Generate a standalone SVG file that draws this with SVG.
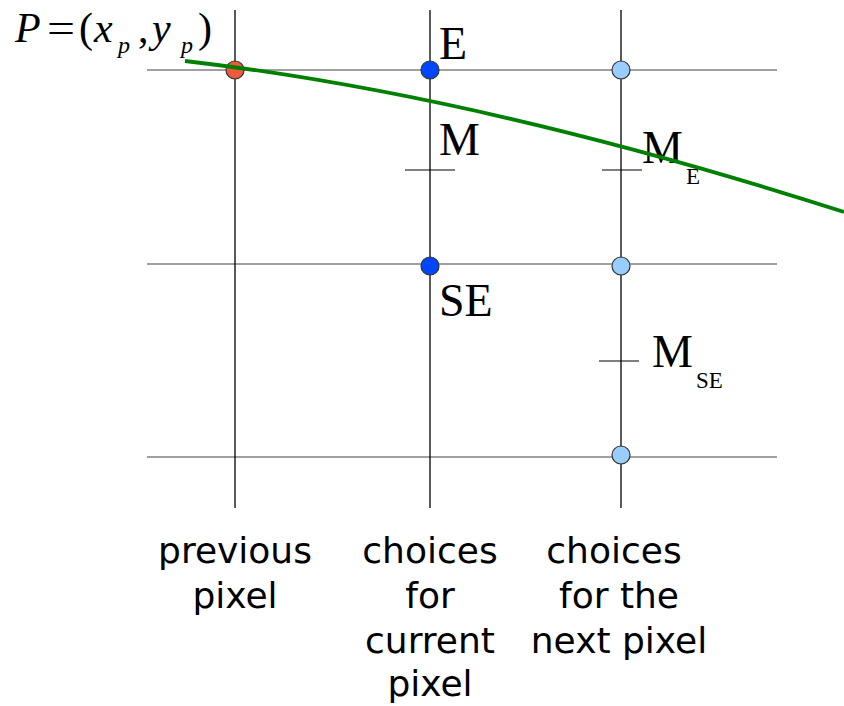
<svg xmlns="http://www.w3.org/2000/svg" width="844" height="706" viewBox="0 0 844 706">
<style>
.grid{stroke:#808080;stroke-width:1.3;fill:none}
.vline{stroke:#000;stroke-width:1.3;fill:none}
.tick{stroke:#000;stroke-width:1;fill:none}
.pt{stroke:#333;stroke-width:1.2}
.red{fill:#ee5a3a}
.blue{fill:#0046ff}
.light{fill:#99ccff}
.lab{font-family:"Liberation Serif","Times New Roman",serif;font-size:46px;fill:#000}
.sub{font-family:"Liberation Serif","Times New Roman",serif;font-size:23px;fill:#000}
.cap{font-family:"DejaVu Sans",Verdana,sans-serif;font-size:36px;fill:#000;text-anchor:middle}
.f{font-family:"Liberation Serif","Times New Roman",serif;fill:#000}
</style>
<rect width="844" height="706" fill="#fff"/>
<g id="grid">
<line class="grid" x1="147" y1="70" x2="777" y2="70"/>
<line class="grid" x1="147" y1="264" x2="777" y2="264"/>
<line class="grid" x1="147" y1="457" x2="777" y2="457"/>
<line class="vline" x1="235" y1="10" x2="235" y2="508"/>
<line class="vline" x1="430" y1="10" x2="430" y2="508"/>
<line class="vline" x1="621" y1="10" x2="621" y2="508" stroke="#444"/>
<line class="tick" x1="405" y1="170" x2="455" y2="170"/>
<line class="tick" x1="602" y1="170" x2="642" y2="170"/>
<line class="tick" x1="599" y1="361" x2="639" y2="361"/>
</g>
<g id="P">
<circle class="pt red" cx="235" cy="70" r="9"/>
<text class="f" font-size="42" font-style="italic" x="15" y="42">P</text>
<text class="f" font-size="42" x="47" y="42" textLength="28" lengthAdjust="spacingAndGlyphs">=</text>
<text class="f" font-size="42" x="79" y="42">(</text>
<text class="f" font-size="42" font-style="italic" x="94" y="42">x</text>
<text class="f" font-size="24" font-style="italic" x="118" y="53">p</text>
<text class="f" font-size="42" x="138" y="42">,</text>
<text class="f" font-size="42" font-style="italic" x="152" y="42">y</text>
<text class="f" font-size="24" font-style="italic" x="181" y="53">p</text>
<text class="f" font-size="42" x="198" y="42">)</text>
</g>
<g id="E">
<circle class="pt blue" cx="430" cy="70" r="9"/>
<text class="lab" x="439" y="59">E</text>
</g>
<g id="M">
<text class="lab" x="439" y="155">M</text>
</g>
<g id="NE">
<circle class="pt light" cx="621" cy="70" r="9"/>
</g>
<g id="ME">
<text class="lab" x="642" y="163">M</text>
<text class="sub" x="686" y="184">E</text>
</g>
<g id="SE">
<circle class="pt blue" cx="430" cy="266" r="9"/>
<text class="lab" x="439" y="316">SE</text>
</g>
<g id="NSE">
<circle class="pt light" cx="621" cy="266" r="9"/>
</g>
<g id="MSE">
<text class="lab" x="652" y="367">M</text>
<text class="sub" x="696" y="388">SE</text>
</g>
<g id="NSSE">
<circle class="pt light" cx="621" cy="455" r="9"/>
</g>
<g id="captions">
<text class="cap" x="235" y="563">previous</text>
<text class="cap" x="235" y="608">pixel</text>
<text class="cap" x="430" y="563">choices</text>
<text class="cap" x="430" y="608">for</text>
<text class="cap" x="430" y="653">current</text>
<text class="cap" x="430" y="696">pixel</text>
<text class="cap" x="614" y="563">choices</text>
<text class="cap" x="619" y="608">for the</text>
<text class="cap" x="619" y="653">next pixel</text>
</g>
<g id="connectors">
<path d="M185,61 Q480,95 844,212" fill="none" stroke="#008000" stroke-width="3.8"/>
</g>
</svg>
